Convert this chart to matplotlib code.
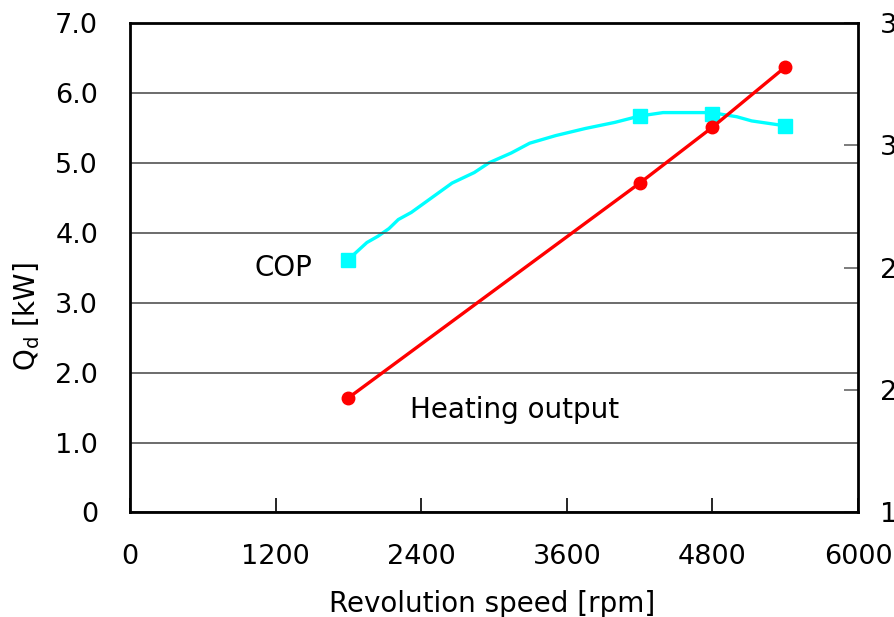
import numpy as np
import matplotlib
matplotlib.use("Agg")
import matplotlib.pyplot as plt

plt.rcParams['font.family'] = ['DejaVu Sans']

# heating output, left axis [kW]
speed = [1800, 4200, 4800, 5400]
heating = [1.64, 4.71, 5.51, 6.37]

cop = [2.53, 3.12, 3.13, 3.08]
curve_speed = [1800, 1952, 2044, 2134, 2211, 2318, 2486, 2654, 2837, 2959, 3142,
               3294, 3508, 3752, 3996, 4200, 4393, 4790, 5001, 5123, 5400]
curve_cop = [2.534, 2.603, 2.629, 2.660, 2.697, 2.726, 2.786, 2.846, 2.889, 2.929,
             2.969, 3.009, 3.040, 3.069, 3.094, 3.120, 3.134, 3.134, 3.117, 3.100,
             3.080]

x_ticks = [0, 1200, 2400, 3600, 4800, 6000]
y_ticks = [0, 1, 2, 3, 4, 5, 6, 7]
y_labels = ['0', '1.0', '2.0', '3.0', '4.0', '5.0', '6.0', '7.0']
cop_ticks = [1.5, 2.0, 2.5, 3.0, 3.5]

fig = plt.figure(figsize=(8.95, 6.17), dpi=100)
ax = fig.add_axes([0.1453, 0.1694, 0.8134, 0.7933])
ax2 = ax.twinx()

fs = 20
tfs = 19.5

# COP on the right axis
ax2.plot(curve_speed, curve_cop, color='#00FFFF', lw=2.4, zorder=2)
ax2.plot(speed, cop, ls='none', marker='s', ms=10, color='#00FFFF', zorder=3)
ax2.set_ylim(1.5, 3.5)
ax2.set_yticks(cop_ticks)
ax2.set_yticklabels(['%.1f' % c for c in cop_ticks])
ax2.tick_params(axis='y', direction='in', length=10, width=1.2, color='#666666',
                labelsize=tfs, pad=16)
for s in ax2.spines.values():
    s.set_visible(False)

# heating output on the left axis, drawn above the COP curve
ax.set_zorder(ax2.get_zorder() + 1)
ax.patch.set_visible(False)
ax.plot(speed, heating, color='#FF0000', lw=2.4, marker='o', ms=9, zorder=4)

ax.set_xlim(0, 6000)
ax.set_ylim(0, 7)
ax.set_xticks(x_ticks)
ax.set_yticks(y_ticks)
ax.set_yticklabels(y_labels)
ax.tick_params(axis='x', direction='in', length=10, width=1.2, labelsize=tfs, pad=23)
ax.tick_params(axis='y', direction='in', length=0, labelsize=tfs, pad=23)
ax.yaxis.grid(True, color='#444444', lw=1.1)
for s in ax.spines.values():
    s.set_linewidth(2)
    s.set_color('black')

ax.set_xlabel('Revolution speed [rpm]', fontsize=fs)
ax.xaxis.set_label_coords(0.497, -0.158)
ax.set_ylabel('Q$_\\mathregular{d}$ [kW]', fontsize=fs)
ax.yaxis.set_label_coords(-0.121, 0.40)

ax.text(1262, 3.5, 'COP', fontsize=fs, ha='center', va='center')
ax.text(2310, 1.47, 'Heating output', fontsize=fs, ha='left', va='center')

fig.savefig('out.png', dpi=100)
